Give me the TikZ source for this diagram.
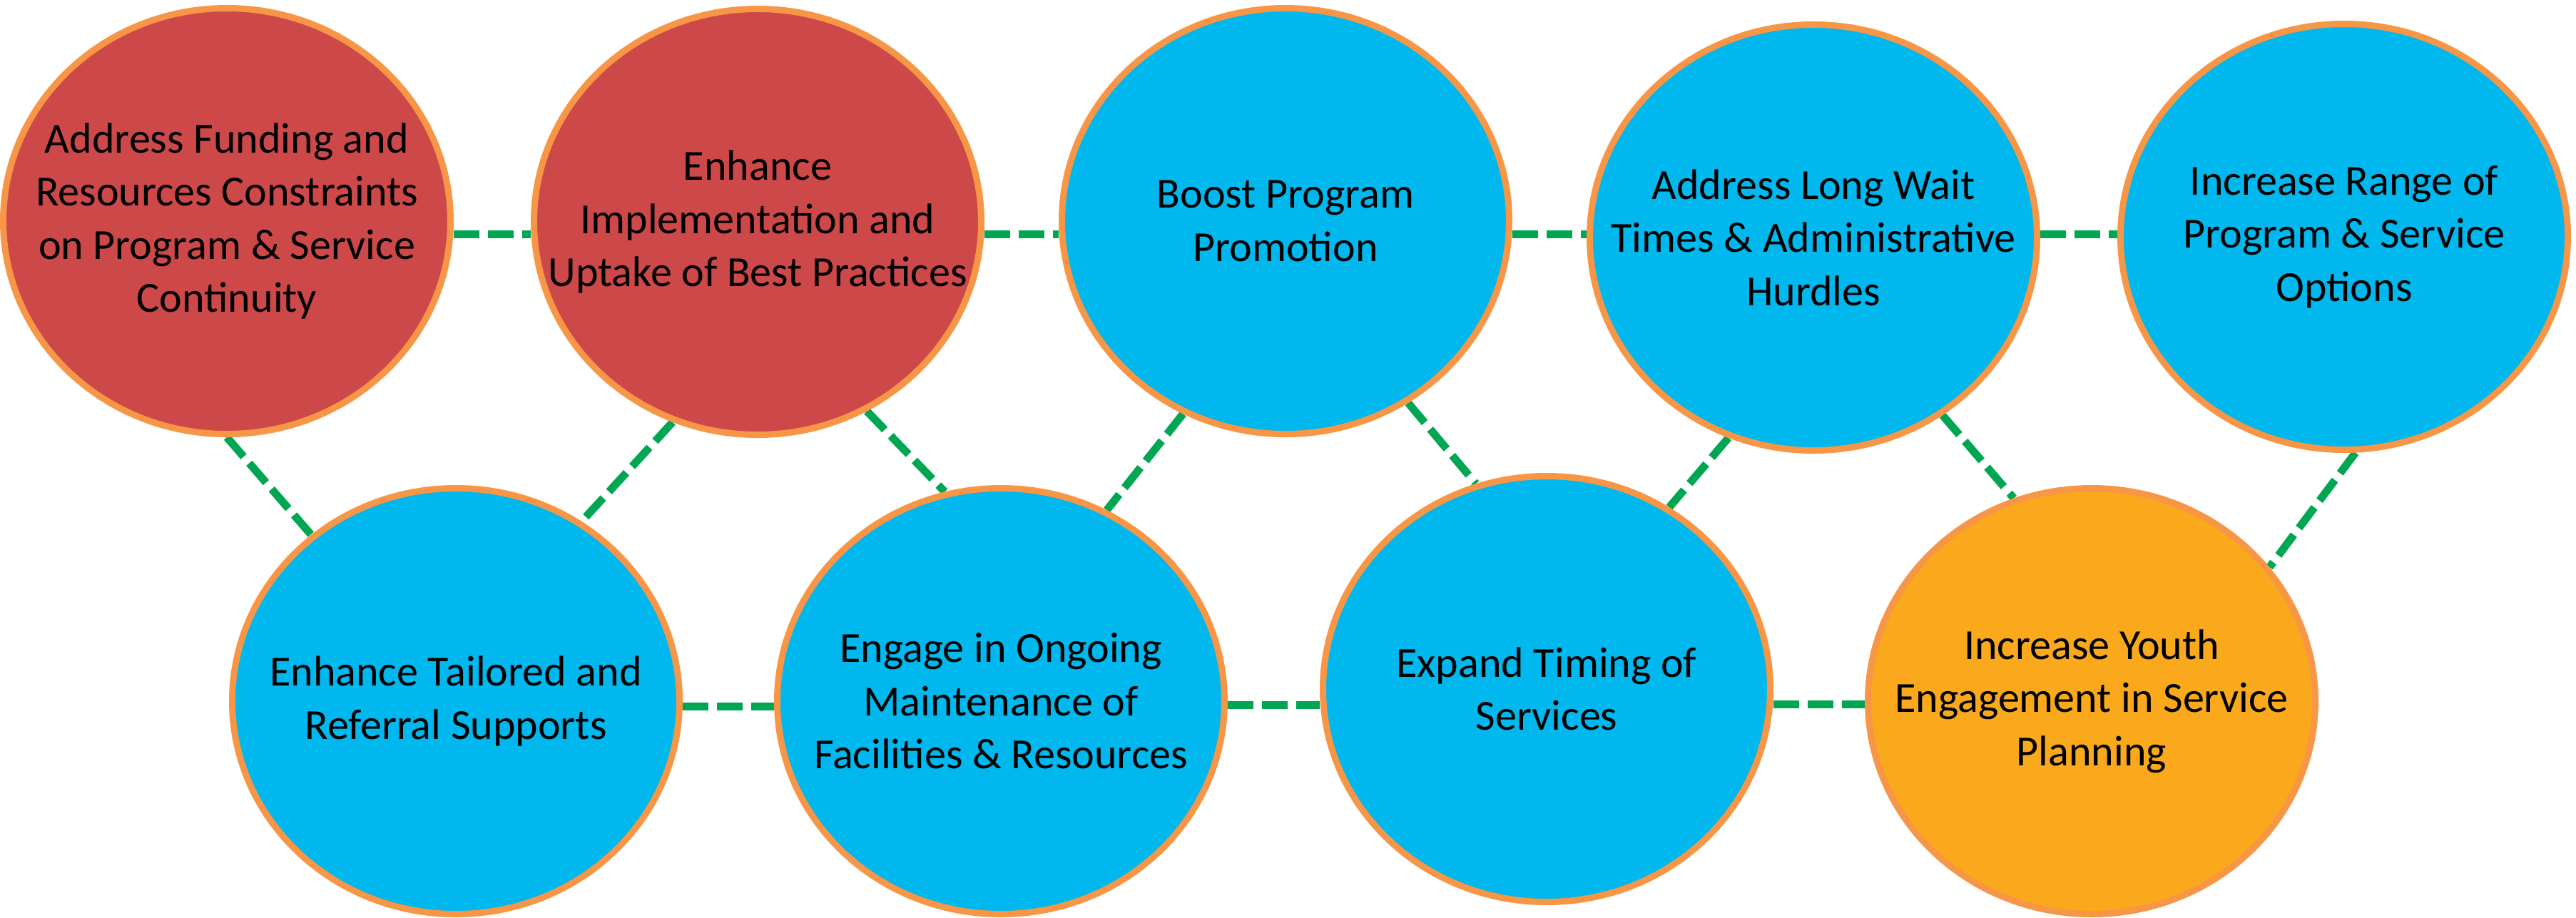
\documentclass[tikz,border=0pt]{standalone}
\usepackage{fontspec}
\setmainfont{Carlito}
\usepackage{xcolor}
\usetikzlibrary{shapes.geometric,backgrounds}

\definecolor{goalred}{RGB}{205,72,72}
\definecolor{goalblue}{RGB}{0,183,238}
\definecolor{goalgold}{RGB}{249,169,27}
\definecolor{goalrim}{RGB}{247,150,70}
\definecolor{linkgreen}{RGB}{0,166,81}

\begin{document}
\begin{tikzpicture}[
  goal/.style={ellipse,draw=goalrim,line width=0.09cm,minimum width=6.27cm,minimum height=5.97cm,inner sep=0pt},
  goaltext/.style={align=center,text=black,font=\fontsize{17.1}{21.2}\selectfont},
  link/.style={draw=linkgreen,line width=0.11cm,dash pattern=on 0.36cm off 0.12cm}
]
\useasboundingbox (0,0) rectangle (36.11,-12.86);

% top row
\node[goal,fill=goalred] (c1) at (3.18,-3.10) {};
\node[goal,fill=goalred] (c2) at (10.62,-3.11) {};
\node[goal,fill=goalblue] (c3) at (18.02,-3.10) {};
\node[goal,fill=goalblue] (c4) at (25.42,-3.33) {};
\node[goal,fill=goalblue] (c5) at (32.86,-3.32) {};

% bottom row
\node[goal,fill=goalblue] (c6) at (6.39,-9.83) {};
\node[goal,fill=goalblue] (c7) at (14.03,-9.83) {};
\node[goal,fill=goalblue] (c8) at (21.68,-9.66) {};
\node[goal,fill=goalgold] (c9) at (29.32,-9.83) {};

\node[goaltext] (t1) at (c1) {Address Funding and\\Resources Constraints\\on Program \& Service\\Continuity};
\node[goaltext] (t2) at (c2) {Enhance\\Implementation and\\Uptake of Best Practices};
\node[goaltext] (t3) at (c3) {Boost Program\\Promotion};
\node[goaltext] (t4) at (c4) {Address Long Wait\\Times \& Administrative\\Hurdles};
\node[goaltext] (t5) at (c5) {Increase Range of\\Program \& Service\\Options};
\node[goaltext] (t6) at (c6) {Enhance Tailored and\\Referral Supports};
\node[goaltext] (t7) at (c7) {Engage in Ongoing\\Maintenance of\\Facilities \& Resources};
\node[goaltext] (t8) at (c8) {Expand Timing of\\Services};
\node[goaltext] (t9) at (c9) {Increase Youth\\Engagement in Service\\Planning};

% dashed links behind the circles
\begin{scope}[on background layer]
\draw[link] (c1.east |- 0,-3.28) -- (c2.west |- 0,-3.28);
\draw[link] (c2.east |- 0,-3.28) -- (c3.west |- 0,-3.28);
\draw[link] (c3.east |- 0,-3.28) -- (c4.west |- 0,-3.28);
\draw[link] (c4.east |- 0,-3.28) -- (c5.west |- 0,-3.28);

\draw[link] (c6.east |- 0,-9.90) -- (c7.west |- 0,-9.90);
\draw[link] (c7.east |- 0,-9.88) -- (c8.west |- 0,-9.88);
\draw[link] (c8.east |- 0,-9.87) -- (c9.west |- 0,-9.87);

\draw[link] (c1.270) -- (c6.131);
\draw[link] (c2.247) -- (c6.55);
\draw[link] (c2.300) -- (c7.105);
\draw[link] (c3.242) -- (c7.61);
\draw[link] (c3.304) -- (c8.109);
\draw[link] (c4.247) -- (c8.56);
\draw[link] (c4.306) -- (c9.111);
\draw[link] (c5.273) -- (c9.37);
\end{scope}
\end{tikzpicture}
\end{document}
